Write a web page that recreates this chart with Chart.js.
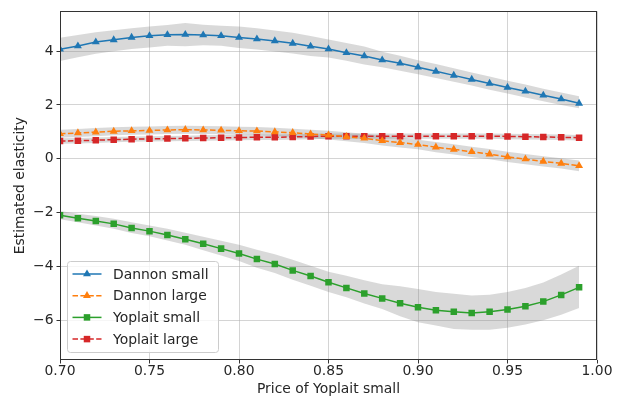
<!DOCTYPE html>
<html><head><meta charset="utf-8">
<script src="https://cdn.jsdelivr.net/npm/chart.js@4.4.1/dist/chart.umd.min.js"></script>
<style>html,body{margin:0;padding:0;background:#fff;}#wrap{width:626px;height:401px;position:relative;}</style>
</head><body><div id="wrap"><canvas id="c" width="626" height="401"></canvas></div>
<script>
const prices = [0.70,0.71,0.72,0.73,0.74,0.75,0.76,0.77,0.78,0.79,0.80,0.81,0.82,0.83,0.84,0.85,0.86,0.87,0.88,0.89,0.90,0.91,0.92,0.93,0.94,0.95,0.96,0.97,0.98,0.99];
const xTicks = [0.70,0.75,0.80,0.85,0.90,0.95,1.00];
const yTicks = [-6,-4,-2,0,2,4];
const seriesNames = ['Dannon small','Dannon large','Yoplait small','Yoplait large'];

const dannonSmall = [4.07,4.19,4.34,4.42,4.51,4.57,4.61,4.62,4.60,4.57,4.51,4.45,4.38,4.29,4.18,4.08,3.94,3.82,3.67,3.55,3.40,3.25,3.10,2.95,2.80,2.65,2.51,2.36,2.22,2.06];
const dannonSmallUpper = [4.5,4.6,4.7,4.78,4.85,4.92,4.97,5.05,4.98,4.94,4.92,4.85,4.77,4.68,4.56,4.43,4.3,4.17,3.98,3.83,3.66,3.52,3.36,3.21,3.06,2.9,2.76,2.6,2.46,2.32];
const dannonSmallLower = [3.63,3.77,3.9,4.0,4.08,4.14,4.2,4.18,4.22,4.2,4.12,4.06,3.99,3.91,3.82,3.76,3.64,3.5,3.4,3.27,3.14,3.0,2.86,2.72,2.57,2.43,2.28,2.14,2.0,1.88];

const dannonLarge = [0.93,0.96,0.99,1.02,1.04,1.05,1.07,1.08,1.07,1.06,1.04,1.03,1.00,0.97,0.92,0.88,0.82,0.76,0.67,0.60,0.53,0.43,0.35,0.26,0.17,0.07,-0.01,-0.10,-0.17,-0.26];
const dannonLargeUpper = [1.08,1.11,1.14,1.17,1.19,1.2,1.22,1.23,1.22,1.21,1.19,1.18,1.15,1.12,1.08,1.04,0.99,0.93,0.85,0.78,0.71,0.62,0.54,0.45,0.36,0.26,0.18,0.09,0.02,-0.06];
const dannonLargeLower = [0.78,0.81,0.84,0.87,0.89,0.9,0.92,0.93,0.92,0.91,0.89,0.88,0.85,0.82,0.76,0.72,0.65,0.59,0.49,0.42,0.35,0.24,0.16,0.07,-0.02,-0.12,-0.2,-0.29,-0.36,-0.46];

const yoplaitSmall = [-2.1,-2.21,-2.31,-2.42,-2.57,-2.69,-2.83,-2.99,-3.16,-3.34,-3.52,-3.73,-3.91,-4.15,-4.36,-4.59,-4.8,-5.01,-5.19,-5.37,-5.52,-5.63,-5.69,-5.73,-5.69,-5.6,-5.48,-5.31,-5.06,-4.78];
const yoplaitSmallUpper = [-1.94,-2.04,-2.13,-2.23,-2.36,-2.48,-2.6,-2.75,-2.9,-3.05,-3.2,-3.38,-3.55,-3.75,-3.98,-4.2,-4.35,-4.52,-4.66,-4.74,-4.84,-4.95,-5.02,-5.08,-5.05,-4.95,-4.8,-4.6,-4.3,-3.98];
const yoplaitSmallLower = [-2.25,-2.36,-2.48,-2.6,-2.76,-2.88,-3.04,-3.2,-3.4,-3.6,-3.8,-4.05,-4.25,-4.5,-4.72,-4.95,-5.15,-5.38,-5.58,-5.85,-6.08,-6.2,-6.33,-6.36,-6.36,-6.28,-6.16,-6.0,-5.8,-5.55];

const yoplaitLarge = [0.66,0.67,0.69,0.71,0.73,0.74,0.75,0.76,0.77,0.78,0.79,0.80,0.80,0.81,0.83,0.84,0.84,0.84,0.84,0.84,0.84,0.84,0.84,0.84,0.84,0.83,0.82,0.81,0.80,0.78];
const yoplaitLargeUpper = [0.76,0.77,0.79,0.81,0.83,0.84,0.85,0.86,0.87,0.88,0.89,0.90,0.90,0.91,0.93,0.94,0.94,0.94,0.94,0.94,0.94,0.94,0.94,0.94,0.94,0.93,0.92,0.91,0.90,0.88];
const yoplaitLargeLower = [0.56,0.57,0.59,0.61,0.63,0.64,0.65,0.66,0.67,0.68,0.69,0.70,0.70,0.71,0.73,0.74,0.74,0.74,0.74,0.74,0.74,0.74,0.74,0.74,0.74,0.73,0.72,0.71,0.70,0.68];

const FONT = 'DejaVu Sans';
const FS = 13.9;
const TXT = '#262626';
const styles = [
  {color:'#1f77b4', dash:[], marker:'triangle', radius:4.6},
  {color:'#ff7f0e', dash:[5.5,2.4], marker:'triangle', radius:4.6},
  {color:'#2ca02c', dash:[], marker:'rect', radius:4.6},
  {color:'#d62728', dash:[5.5,2.4], marker:'rect', radius:4.6}
];
const seriesData = [
  [dannonSmall, dannonSmallUpper, dannonSmallLower],
  [dannonLarge, dannonLargeUpper, dannonLargeLower],
  [yoplaitSmall, yoplaitSmallUpper, yoplaitSmallLower],
  [yoplaitLarge, yoplaitLargeUpper, yoplaitLargeLower]
];
const pts = arr => arr.map((v,i)=>({x:prices[i], y:v}));

const datasets = [];
seriesData.forEach((s,i)=>{
  datasets.push({label:'_band', data:pts(s[1]), fill:'+1', backgroundColor:'rgba(128,128,128,0.3)', borderWidth:0, pointRadius:0, order:5, tension:0});
  datasets.push({label:'_band', data:pts(s[2]), fill:false, borderWidth:0, pointRadius:0, order:5, tension:0});
});
seriesData.forEach((s,i)=>{
  const st = styles[i];
  datasets.push({label:seriesNames[i], data:pts(s[0]), borderColor:st.color, backgroundColor:st.color,
    borderWidth:1.5, borderDash:st.dash, pointStyle:st.marker, pointRadius:st.radius,
    pointBorderWidth:0, pointBackgroundColor:st.color, fill:false, tension:0, order:1});
});

function drawMarker(ctx, type, x, y, r, color){
  ctx.save(); ctx.setLineDash([]); ctx.fillStyle = color; ctx.beginPath();
  if (type==='triangle'){
    ctx.moveTo(x, y - r);
    ctx.lineTo(x + r*Math.sin(2*Math.PI/3), y - r*Math.cos(2*Math.PI/3));
    ctx.lineTo(x + r*Math.sin(4*Math.PI/3), y - r*Math.cos(4*Math.PI/3));
    ctx.closePath();
  } else {
    const s = r*Math.SQRT1_2; ctx.rect(x-s, y-s, 2*s, 2*s);
  }
  ctx.fill(); ctx.restore();
}

const framePlugin = {
  id:'frame',
  afterDatasetsDraw(chart){
    const {ctx, chartArea:a} = chart;
    ctx.save(); ctx.strokeStyle = '#333'; ctx.lineWidth = 1;
    ctx.strokeRect(Math.round(a.left)+0.5, Math.round(a.top)+0.5, Math.round(a.right-a.left)-1, Math.round(a.bottom-a.top)-1);
    ctx.restore();
  },
  afterDraw(chart){
    const {ctx, chartArea:a} = chart;
    const bx = a.left + 7.5, bw = 151, bh = 91, by = a.bottom - 7.5 - bh;
    ctx.save();
    ctx.beginPath();
    ctx.roundRect(bx, by, bw, bh, 3);
    ctx.fillStyle = 'rgba(255,255,255,0.8)'; ctx.fill();
    ctx.strokeStyle = '#cccccc'; ctx.lineWidth = 1; ctx.stroke();
    ctx.font = FS + 'px "' + FONT + '"'; ctx.textBaseline = 'middle'; ctx.fillStyle = TXT;
    seriesNames.forEach((name,i)=>{
      const st = styles[i];
      const y = by + 12.5 + i*21.7;
      ctx.save(); ctx.strokeStyle = st.color; ctx.lineWidth = 1.5; ctx.setLineDash(st.dash);
      ctx.beginPath(); ctx.moveTo(bx+5, y); ctx.lineTo(bx+34, y); ctx.stroke(); ctx.restore();
      drawMarker(ctx, st.marker, bx+19.5, y, st.radius, st.color);
      ctx.fillStyle = TXT; ctx.fillText(name, bx+45.5, y+1);
    });
    ctx.restore();
  }
};

const gridColor = 'rgba(176,176,176,0.55)';
new Chart(document.getElementById('c'), {
  type:'line',
  data:{datasets},
  options:{
    responsive:false, animation:false, devicePixelRatio:1,
    layout:{padding:{left:0, top:10, right:29, bottom:0}},
    plugins:{legend:{display:false}, tooltip:{enabled:false}},
    scales:{
      x:{type:'linear', min:0.70, max:1.00,
        afterBuildTicks: ax => { ax.ticks = xTicks.map(v=>({value:v})); },
        afterFit: s => { s.height = 41; },
        ticks:{callback:v=>Number(v).toFixed(2), font:{family:FONT, size:FS}, color:TXT, padding:0, maxRotation:0, autoSkip:false},
        grid:{color:gridColor, tickColor:'#333', tickLength:3.5, lineWidth:1},
        border:{display:false},
        title:{display:true, text:'Price of Yoplait small', font:{family:FONT, size:FS}, color:TXT, padding:{top:0, bottom:3.5}}
      },
      y:{type:'linear', min:-7.48, max:5.48,
        afterBuildTicks: ax => { ax.ticks = yTicks.map(v=>({value:v})); },
        afterFit: s => { s.width = 60; },
        ticks:{callback:v=> v<0 ? '\u2212'+Math.abs(v) : String(v), font:{family:FONT, size:FS}, color:TXT, padding:3},
        grid:{color:gridColor, tickColor:'#333', tickLength:3.5, lineWidth:1},
        border:{display:false},
        title:{display:true, text:'Estimated elasticity', font:{family:FONT, size:FS}, color:TXT, padding:{top:12.2, bottom:0}}
      }
    }
  },
  plugins:[framePlugin]
});
</script></body></html>
